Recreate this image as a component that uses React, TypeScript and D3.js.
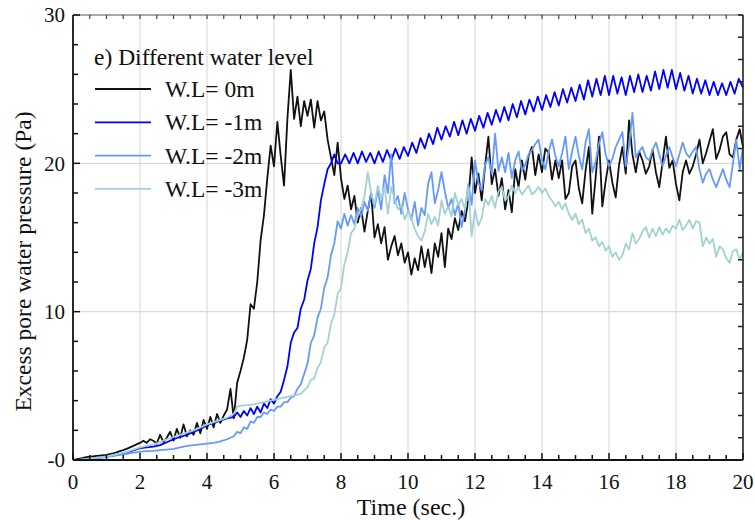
import React from "react";
import * as d3 from "d3";

// ---------- data (time in sec., pressure in Pa) ----------
// Each series is a set of sampled segments: start time, sample step, values.
const wl0Segments = [
  {
    start: 0,
    step: 0.1,
    values: [
      0, 0.05, 0.1, 0.15, 0.2, 0.22, 0.25, 0.28, 0.3, 0.32, 0.35,
      0.4, 0.45, 0.52, 0.6, 0.67, 0.75, 0.85, 0.95, 1.05, 1.15,
      1.3, 1.15, 1.4, 1.3, 1.1, 1.7, 1.2, 1.5, 1.9, 1.3,
      2.1, 1.5, 2.4, 1.6, 2.0, 1.7, 2.5, 1.8, 2.7, 2.1,
      2.9, 2.2, 3.1, 2.5, 3.0, 3.4, 4.8, 2.8, 5.2, 6.0,
      6.9, 8.1, 10.5, 10.2, 12.0, 14.8, 16.5, 19.0, 21.2, 19.8,
      22.8, 20.5, 18.5, 23.0, 26.3, 23.0, 24.5, 22.5, 24.2, 23.2,
      24.3, 22.4, 24.2, 22.9, 23.5, 21.6, 20.4, 19.2, 21.4, 19.0,
      17.6, 18.5, 16.9, 17.8, 16.0, 17.0, 15.4, 16.8, 18.0, 15.0,
      15.9, 14.6, 15.7, 13.5, 14.4, 15.1, 13.8, 14.6, 13.3, 14.0,
      12.5, 13.6, 12.8, 14.4, 13.0, 14.2, 12.6, 14.6, 13.7, 15.3,
      13.0, 15.6, 14.9, 16.3, 15.5, 16.8, 16.1, 17.5, 20.4, 18.0,
      19.3, 17.5, 19.8, 21.8, 18.6, 19.6, 17.8, 19.0, 16.9, 18.2,
      16.7, 19.6, 18.4, 20.2, 18.9, 20.5, 21.1, 19.2, 20.6, 19.4,
      21.0, 20.7, 18.9, 20.2, 19.0, 20.2, 17.6, 18.0, 19.8, 20.2,
      18.3, 17.3, 19.5, 21.1, 16.6, 19.0, 21.8, 17.1, 18.8, 20.2,
      18.7, 17.7, 19.9, 21.1, 19.3, 22.9, 20.6, 19.4, 20.8, 20.2,
      19.3, 19.8, 20.9, 19.4, 18.4, 20.1, 21.8, 19.7, 20.2, 18.6,
      17.5, 19.4, 20.2, 19.3, 19.8, 20.6, 21.6, 20.0, 20.7, 21.5,
      22.3, 20.3, 20.9, 21.8, 22.1, 20.6, 20.4, 21.6, 22.3, 21.1,
    ],
  },
];

const wl1Segments = [
  {
    start: 0,
    step: 0.2,
    values: [
      0, 0.02, 0.08, 0.12, 0.17, 0.22, 0.3, 0.38, 0.5, 0.65, 0.8, 0.85, 0.9,
      1.0, 1.2, 1.4, 1.55, 1.7, 1.9, 2.1, 2.35, 2.5, 2.65, 2.8, 2.9,
    ],
  },
  {
    start: 4.9,
    step: 0.1,
    values: [
      3.2, 2.9, 3.3, 3.0, 3.5, 3.1, 3.6, 3.2, 3.8, 3.5, 4.1, 3.8, 4.3, 4.6,
      5.4, 6.3, 7.9, 8.6, 8.9, 10.2, 10.8, 12.1, 12.9, 14.6, 15.7, 17.5, 18.6,
      19.6, 20.0, 20.6, 20.0,
    ],
  },
  {
    start: 8.0,
    step: 0.125,
    values: [
      20.0, 20.6, 20.0, 20.7, 20.0, 20.8, 20.1, 20.7,
      20.0, 20.8, 20.1, 20.9, 20.2, 21.0, 20.3, 21.1,
      20.5, 21.4, 20.7, 21.7, 21.0, 22.0, 21.3, 22.4,
      21.6, 22.5, 21.8, 22.8, 21.9, 22.9, 22.0, 23.0,
      22.2, 23.2, 22.4, 23.4, 22.6, 23.6, 22.8, 23.8,
      22.9, 24.0, 23.1, 24.2, 23.3, 24.3, 23.5, 24.5,
      23.6, 24.6, 23.8, 24.8, 23.9, 25.0, 24.1, 25.1,
      24.2, 25.3, 24.3, 25.6, 24.5, 25.7, 24.6, 25.9,
      24.6, 25.9, 24.7, 25.8, 24.6, 25.9, 24.8, 26.0,
      24.8, 25.9, 24.9, 26.2, 25.0, 26.3, 25.1, 26.3,
      25.0, 26.1, 24.9, 25.9, 24.7, 25.7, 24.7, 25.6,
      24.6, 25.5, 24.6, 25.4, 24.6, 25.5, 24.7, 25.7,
      25.1,
    ],
  },
];

const wl2Segments = [
  {
    start: 0,
    step: 0.2,
    values: [
      0, 0.0, 0.05, 0.1, 0.15, 0.2, 0.28, 0.35, 0.42, 0.5, 0.55, 0.6, 0.62,
      0.66, 0.7, 0.75, 0.85, 0.95, 1.0, 1.05, 1.1, 1.15, 1.25, 1.4, 1.6,
    ],
  },
  {
    start: 4.9,
    step: 0.1,
    values: [
      1.9, 1.8, 2.2, 2.1, 2.6, 2.5, 2.9, 2.9, 3.2, 3.1, 3.4, 3.3,
      3.6, 3.6, 3.9, 3.9, 4.2, 4.3, 4.8, 5.1, 5.8, 6.5,
      7.9, 8.4, 9.6, 10.2, 11.6, 12.3, 13.8, 14.6, 16.1, 15.6,
      16.6, 15.8, 16.5, 15.9, 17.0, 16.4, 17.4, 16.8, 18.0, 17.0,
      18.2, 16.9, 19.2, 18.0, 20.6, 17.3, 17.8, 16.6, 18.0, 16.9,
      16.2, 17.4, 15.8, 17.0, 16.5, 18.6, 19.4, 17.3, 18.2, 19.4,
      18.1, 17.0, 17.6, 16.5, 17.3, 15.7, 16.8, 18.6, 17.2, 20.2,
      18.7, 18.2, 19.9, 20.4, 19.3, 22.0, 19.5, 20.4, 19.4, 20.7,
      19.0, 20.2, 20.8, 19.5, 19.9, 20.6, 20.9, 21.3, 21.6, 20.2,
      19.6, 20.8, 21.6, 20.5, 19.8, 20.7, 21.8, 19.6, 20.8, 21.8,
      20.5, 19.6, 21.4, 22.3, 19.4, 20.1, 21.3, 22.1, 20.6, 19.8,
      20.3, 21.1, 21.6, 22.1, 19.8, 21.2, 23.4, 20.4, 20.8, 21.1,
      20.4, 20.2, 20.9, 21.4, 20.6, 19.8, 20.5, 21.1, 20.4, 19.8,
      20.6, 21.4, 20.7, 20.4, 20.8, 21.1, 19.6, 18.7, 19.3, 19.6,
      18.9, 18.4, 19.0, 19.6, 18.9, 18.4, 20.0, 21.6, 19.6, 21.1,
    ],
  },
];

const wl3Segments = [
  {
    start: 0,
    step: 0.2,
    values: [
      0, 0.02, 0.07, 0.12, 0.18, 0.25, 0.35, 0.45, 0.55, 0.7, 0.85, 0.95,
      1.05, 1.2, 1.4, 1.55, 1.7, 1.85, 2.0, 2.2, 2.4, 2.55, 2.7, 2.85, 3.1,
    ],
  },
  { start: 4.9, step: 0.1, values: [3.6, 3.65] },
  {
    start: 5.2,
    step: 0.2,
    values: [3.7, 3.75, 3.85, 3.95, 4.05, 4.15, 4.25, 4.35, 4.45],
  },
  {
    start: 6.9,
    step: 0.1,
    values: [
      4.7, 4.9,
      5.4, 5.5, 6.2, 6.6, 7.6, 7.9, 9.2, 9.8, 11.2, 11.6,
      13.2, 14.0, 15.3, 15.6, 16.5, 16.9, 17.8, 19.4, 18.0, 17.2,
      18.5, 17.6, 18.4, 16.6, 18.4, 17.6, 16.9, 17.2, 16.2, 16.8,
      16.3, 15.6, 15.1, 14.8, 15.4, 16.6, 15.9, 16.4, 15.8, 17.5,
      16.6, 17.1, 16.4, 18.0, 17.2, 17.6, 16.9, 18.4, 15.1, 16.9,
      15.8, 16.3, 17.6, 17.2, 17.8, 17.0, 18.1, 18.4, 17.5, 17.8,
      18.5, 18.0, 18.4, 17.9, 18.2, 18.5, 17.9, 18.1, 18.4, 18.0,
      18.3, 17.8, 17.5, 17.1, 17.4, 16.9, 17.3, 16.6, 16.2, 16.6,
      15.9, 16.2, 15.3, 15.6, 14.8, 15.0, 14.4, 14.7, 14.1, 14.4,
      13.7, 14.0, 13.5, 13.8, 14.6, 14.2, 15.3, 14.6, 14.9, 15.4,
      15.7, 15.0, 15.6, 15.1, 15.7, 15.2, 15.6, 15.3, 15.8, 15.6,
      16.2, 15.5, 15.8, 16.2, 15.6, 16.1, 16.0, 14.4, 15.0, 14.6,
      14.9, 13.7, 14.4, 14.2, 13.6, 13.3, 14.1, 14.2, 13.5, 14.0,
    ],
  },
];

const seriesNames = ["W.L= 0m", "W.L= -1m", "W.L= -2m", "W.L= -3m"];
const seriesColors = ["#111111", "#0000ff", "#6699ff", "#a2d2d2"];
const seriesData = [wl0Segments, wl1Segments, wl2Segments, wl3Segments];

const xTickValues = [0, 2, 4, 6, 8, 10, 12, 14, 16, 18, 20];
const yTickValues = [0, 10, 20, 30];
const yTickLabels = ["-0", "10", "20", "30"];

const chartTitle = "e) Different water level";
const xTitle = "Time (sec.)";
const yTitle = "Excess pore water pressure (Pa)";

// ---------- layout ----------
const W = 755;
const H = 520;
const M = { left: 73, right: 12, top: 15, bottom: 60 };
const FONT = "'Liberation Serif', 'Times New Roman', serif";

function toPoints(segs: { start: number; step: number; values: number[] }[]) {
  const pts: [number, number][] = [];
  segs.forEach((s) => {
    s.values.forEach((v, i) => {
      pts.push([+(s.start + i * s.step).toFixed(4), v]);
    });
  });
  return pts;
}

export default function App() {
  const x = d3.scaleLinear().domain([0, 20]).range([M.left, W - M.right]);
  const y = d3.scaleLinear().domain([0, 30]).range([H - M.bottom, M.top]);
  const x0 = x(0);
  const x1 = x(20);
  const y0 = y(0);
  const y1 = y(30);

  const line = d3
    .line<[number, number]>()
    .x((d) => x(d[0]))
    .y((d) => y(d[1]));

  const minorX = d3.range(0, 20.001, 0.5);
  const leftMinor = d3.range(0, 30.001, 2);
  const rightMinor = d3.range(0, 30.001, 1.5);

  return (
    <svg
      width={W}
      height={H}
      style={{ position: "absolute", left: 0, top: 0, background: "#fff" }}
      fontFamily={FONT}
    >
      <rect x={0} y={0} width={W} height={H} fill="#fff" />
      {/* grid */}
      {xTickValues
        .filter((t) => t > 0 && t < 20)
        .map((t) => (
          <line key={"gx" + t} x1={x(t)} x2={x(t)} y1={y1} y2={y0} stroke="#d4d4d4" strokeWidth={1} />
        ))}
      {[10, 20].map((v) => (
        <line key={"gy" + v} x1={x0} x2={x1} y1={y(v)} y2={y(v)} stroke="#d4d4d4" strokeWidth={1} />
      ))}

      {/* series */}
      {seriesData.map((segs, i) => (
        <path
          key={"s" + i}
          d={line(toPoints(segs)) || ""}
          fill="none"
          stroke={seriesColors[i]}
          strokeWidth={1.8}
          strokeLinejoin="round"
        />
      ))}

      {/* frame */}
      <line x1={x0} x2={x1} y1={y1} y2={y1} stroke="#555" strokeWidth={1.2} />
      <line x1={x1} x2={x1} y1={y1} y2={y0} stroke="#222" strokeWidth={1.6} />
      <line x1={x0} x2={x0} y1={y1} y2={y0} stroke="#111" strokeWidth={1.8} />
      <line x1={x0} x2={x1} y1={y0} y2={y0} stroke="#111" strokeWidth={1.8} />

      {/* ticks */}
      {minorX.map((t) => {
        const major = Math.abs(t / 2 - Math.round(t / 2)) < 1e-6;
        return (
          <g key={"tx" + t}>
            <line x1={x(t)} x2={x(t)} y1={y0} y2={y0 - (major ? 7 : 5)} stroke="#111" strokeWidth={1.5} />
            <line x1={x(t)} x2={x(t)} y1={y1} y2={y1 + 4} stroke="#444" strokeWidth={1.2} />
          </g>
        );
      })}
      {leftMinor.map((v) => (
        <line key={"tl" + v} x1={x0} x2={x0 + (v % 10 === 0 ? 7 : 5)} y1={y(v)} y2={y(v)} stroke="#111" strokeWidth={1.5} />
      ))}
      {rightMinor.map((v) => (
        <line key={"tr" + v} x1={x1} x2={x1 - 5} y1={y(v)} y2={y(v)} stroke="#222" strokeWidth={1.5} />
      ))}

      {/* tick labels */}
      {xTickValues.map((t) => (
        <text key={"lx" + t} x={x(t)} y={y0 + 29} textAnchor="middle" fontSize={21} fill="#111">
          {t}
        </text>
      ))}
      {yTickValues.map((v, i) => (
        <text key={"ly" + v} x={x0 - 8} y={y(v)} dy="0.35em" textAnchor="end" fontSize={21} fill="#111">
          {yTickLabels[i]}
        </text>
      ))}

      {/* axis titles */}
      <text x={(x0 + x1) / 2 + 3} y={H - 5} textAnchor="middle" fontSize={24} fill="#111">
        {xTitle}
      </text>
      <text
        transform={`translate(31, ${(y0 + y1) / 2 + 24}) rotate(-90)`}
        textAnchor="middle"
        fontSize={23.5}
        fill="#111"
      >
        {yTitle}
      </text>

      {/* legend */}
      <text x={94} y={65} fontSize={23.5} fill="#111">
        {chartTitle}
      </text>
      {seriesNames.map((n, i) => (
        <g key={"lg" + i}>
          <line x1={95} x2={151} y1={89 + i * 33.3} y2={89 + i * 33.3} stroke={seriesColors[i]} strokeWidth={1.8} />
          <text x={165} y={89 + i * 33.3 + 8} fontSize={23.5} fill="#111">
            {n}
          </text>
        </g>
      ))}
    </svg>
  );
}
